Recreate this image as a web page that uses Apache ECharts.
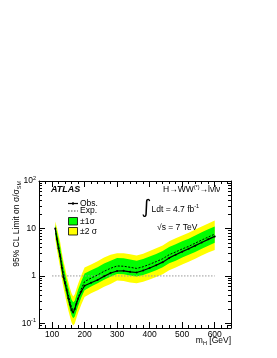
<!DOCTYPE html>
<html><head><meta charset="utf-8">
<script src="https://cdn.jsdelivr.net/npm/echarts@6/dist/echarts.min.js"></script>
<style>html,body{margin:0;padding:0;background:#fff}#c{width:277px;height:358px}</style>
</head><body><div id="c"></div>
<script>
// Higgs mass points [GeV]
const massPoints = [110,115,120,125,130,135,140,145,150,155,160,165,170,175,180,190,200,220,240,260,280,300,320,340,360,380,400,420,440,460,480,500,520,540,560,580,600];
// Observed 95% CL limit on sigma/sigma_SM
const observed = [10,6.0,3.8,2.6,1.5,0.95,0.7,0.5,0.34,0.25,0.19,0.17,0.2,0.26,0.33,0.47,0.62,0.72,0.82,0.98,1.15,1.27,1.28,1.22,1.18,1.3,1.47,1.68,1.95,2.4,2.8,3.25,3.75,4.35,5.05,5.9,6.8];
// Expected limit (median)
const expected = [9.5,6.3,4.2,2.9,1.75,1.15,0.8,0.55,0.4,0.29,0.22,0.19,0.21,0.27,0.35,0.53,0.76,0.9,1.05,1.25,1.45,1.62,1.6,1.52,1.44,1.56,1.76,2.0,2.3,2.8,3.2,3.7,4.2,4.9,5.7,6.6,7.6];
// +2 sigma, +1 sigma, -1 sigma, -2 sigma
const plus2 = [14,10.5,7.4,5.2,3.2,2.1,1.5,1.03,0.76,0.56,0.43,0.37,0.41,0.53,0.68,1.03,1.5,1.75,2.05,2.45,2.8,3.0,3.0,2.85,2.7,2.95,3.35,3.85,4.4,5.4,6.2,7.1,8.1,9.5,11,12.8,14.7];
const plus1 = [12,8.5,5.9,4.1,2.5,1.65,1.15,0.79,0.58,0.42,0.32,0.28,0.3,0.39,0.51,0.77,1.12,1.32,1.53,1.83,2.1,2.38,2.35,2.22,2.1,2.28,2.56,2.9,3.35,4.05,4.65,5.4,6.1,7.1,8.3,9.6,11];
const minus1 = [7.4,4.6,3.0,2.0,1.2,0.78,0.54,0.37,0.27,0.195,0.148,0.128,0.14,0.18,0.23,0.35,0.5,0.6,0.7,0.83,0.96,1.1,1.08,1.02,0.97,1.04,1.17,1.32,1.52,1.85,2.1,2.45,2.78,3.2,3.75,4.35,5.0];
const minus2 = [6,3.6,2.3,1.5,0.88,0.57,0.39,0.27,0.19,0.14,0.105,0.09,0.1,0.13,0.165,0.25,0.36,0.43,0.5,0.59,0.68,0.8,0.78,0.73,0.7,0.75,0.84,0.95,1.09,1.32,1.5,1.74,1.98,2.3,2.7,3.1,3.5];
// Tick labels
const xTickLabels = [100,200,300,400,500,600];
const yTickLabels = [0.1,1,10,100];
// Reference line sigma/sigma_SM = 1
const refLineX = [100,600];
const refLineY = 1;

const FONT = '"Liberation Sans", Arial, Helvetica, sans-serif';
const X_MIN = 60, X_MAX = 650, Y_MIN = 0.08, Y_MAX = 100;

const xMinor = [];
for (let v = X_MIN; v <= X_MAX; v += 20) if (v % 100 !== 0) xMinor.push(v);
const yMajorLog = yTickLabels.map(v => Math.log10(v));
const yMinorLog = [];
for (let d = -2; d <= 1; d++) for (let k = 2; k <= 9; k++) {
  const l = Math.log10(k * Math.pow(10, d));
  if (l >= Math.log10(Y_MIN) - 1e-9 && l <= 2) yMinorLog.push(l);
}

const chart = echarts.init(document.getElementById('c'), null, {renderer: 'canvas'});

function xAx(pos, ticks, len, showLine, showLabel) {
  return {
    type: 'value', position: pos, min: X_MIN, max: X_MAX,
    axisLine: {show: showLine, onZero: false, lineStyle: {color: '#000', width: 1}},
    axisTick: {show: true, inside: true, length: len, customValues: ticks, lineStyle: {color: '#000', width: 1}},
    axisLabel: {show: showLabel, customValues: xTickLabels, margin: 2, color: '#000', fontSize: 8.5, fontFamily: FONT},
    splitLine: {show: false}
  };
}
function yAxTicks(pos, ticks, len, showLine) {
  return {
    type: 'value', position: pos, min: Math.log10(Y_MIN), max: 2,
    axisLine: {show: showLine, onZero: false, lineStyle: {color: '#000', width: 1}},
    axisTick: {show: true, inside: true, length: len, customValues: ticks, lineStyle: {color: '#000', width: 1}},
    axisLabel: {show: false},
    splitLine: {show: false}
  };
}

function band(lo, hi, color, name) {
  return {
    type: 'custom', name: name, silent: true,
    data: massPoints.map((m, i) => [m, lo[i], hi[i]]),
    encode: {x: 0, y: [1, 2]},
    renderItem: function (params, api) {
      if (params.dataIndex !== 0) return null;
      const pts = [];
      for (let i = 0; i < massPoints.length; i++) pts.push(api.coord([massPoints[i], hi[i]]));
      for (let i = massPoints.length - 1; i >= 0; i--) pts.push(api.coord([massPoints[i], lo[i]]));
      return {type: 'polygon', shape: {points: pts}, style: {fill: color}};
    }
  };
}

const supRich = {
  n: {fontSize: 8.5, fontFamily: FONT, color: '#000', lineHeight: 11},
  sup: {fontSize: 5.5, fontFamily: FONT, color: '#000', verticalAlign: 'top', lineHeight: 11},
  sub: {fontSize: 5.5, fontFamily: FONT, color: '#000', verticalAlign: 'bottom', lineHeight: 11}
};

const option = {
  animation: false,
  backgroundColor: '#fff',
  grid: {left: 39, top: 181, right: 46, bottom: 30, containLabel: false},
  xAxis: [
    xAx('bottom', xTickLabels, 6, true, true),
    xAx('bottom', xMinor, 3, false, false),
    xAx('top', xTickLabels, 6, true, false),
    xAx('top', xMinor, 3, false, false)
  ],
  yAxis: [
    {
      type: 'log', logBase: 10, min: Y_MIN, max: Y_MAX, position: 'left',
      axisLine: {show: true, onZero: false, lineStyle: {color: '#000', width: 1}},
      axisTick: {show: false},
      axisLabel: {
        margin: 3, color: '#000', fontSize: 8.5, fontFamily: FONT,
        formatter: function (v) {
          const l = Math.log10(v), e = Math.round(l);
          if (Math.abs(l - e) > 1e-6) return '';
          if (e === 0) return '{n|1}';
          if (e === 1) return '{n|10}';
          return '{n|10}{sup|' + e + '}';
        },
        rich: supRich
      },
      splitLine: {show: false}, minorTick: {show: false}
    },
    yAxTicks('left', yMajorLog, 6, false),
    yAxTicks('left', yMinorLog, 3, false),
    yAxTicks('right', yMajorLog, 6, true),
    yAxTicks('right', yMinorLog, 3, false)
  ],
  series: [
    band(minus2, plus2, '#ffff00', '±2σ'),
    band(minus1, plus1, '#00ff00', '±1σ'),
    {
      type: 'line', name: 'ref', silent: true, showSymbol: false,
      data: refLineX.map(x => [x, refLineY]),
      lineStyle: {color: '#999', width: 1, type: [1.5, 1.5]}, z: 3
    },
    {
      type: 'line', name: 'Exp.', silent: true, showSymbol: false,
      data: massPoints.map((m, i) => [m, expected[i]]),
      lineStyle: {color: '#000', width: 1, type: [2, 1.5]}, z: 4
    },
    {
      type: 'line', name: 'Obs.', silent: true, showSymbol: true, symbol: 'circle', symbolSize: 2,
      itemStyle: {color: '#000'},
      data: massPoints.map((m, i) => [m, observed[i]]),
      lineStyle: {color: '#000', width: 1.2}, z: 5
    }
  ],
  graphic: [
    {type: 'text', left: 51, top: 185, style: {text: 'ATLAS', font: 'italic bold 9px ' + FONT, fill: '#000'}},
    // legend
    {type: 'line', shape: {x1: 68, y1: 203.5, x2: 78, y2: 203.5}, style: {stroke: '#000', lineWidth: 1.2}},
    {type: 'circle', shape: {cx: 73, cy: 203.5, r: 1.2}, style: {fill: '#000'}},
    {type: 'text', x: 80, y: 203.5, style: {text: 'Obs.', font: '8.5px ' + FONT, fill: '#000', verticalAlign: 'middle'}},
    {type: 'line', shape: {x1: 68, y1: 211, x2: 78, y2: 211}, style: {stroke: '#555', lineWidth: 1, lineDash: [1.5, 1.5]}},
    {type: 'text', x: 80, y: 211, style: {text: 'Exp.', font: '8.5px ' + FONT, fill: '#000', verticalAlign: 'middle'}},
    {type: 'rect', shape: {x: 68.5, y: 217.5, width: 9, height: 7.5}, style: {fill: '#00ff00', stroke: '#000', lineWidth: 0.8}},
    {type: 'text', x: 80, y: 221.3, style: {text: '±1σ', font: '8.5px ' + FONT, fill: '#000', verticalAlign: 'middle'}},
    {type: 'rect', shape: {x: 68.5, y: 227.5, width: 9, height: 7.5}, style: {fill: '#ffff00', stroke: '#000', lineWidth: 0.8}},
    {type: 'text', x: 80, y: 231.3, style: {text: '±2 σ', font: '8.5px ' + FONT, fill: '#000', verticalAlign: 'middle'}},
    // right annotations
    {type: 'text', x: 163, y: 189.5, style: {text: '{n|H→WW}{sup|(*)}{n|→lνlν}', rich: supRich, verticalAlign: 'middle'}},
    {type: 'text', x: 141.5, y: 208, style: {text: '∫', font: '19px "DejaVu Sans", ' + FONT, fill: '#000', verticalAlign: 'middle'}},
    {type: 'text', x: 151.5, y: 209.3, style: {text: '{n|Ldt = 4.7 fb}{sup|-1}', rich: supRich, verticalAlign: 'middle'}},
    {type: 'text', x: 157, y: 227.3, style: {text: '{n|√s = 7 TeV}', rich: supRich, verticalAlign: 'middle'}},
    // axis titles
    {type: 'text', x: 231, y: 341, style: {text: '{n|m}{sub|H}{n| [GeV]}', rich: supRich, align: 'right', verticalAlign: 'middle'}},
    {type: 'text', x: 16.5, y: 181, rotation: Math.PI / 2,
      style: {text: '{n|95% CL Limit on σ/σ}{sub|SM}', rich: supRich, align: 'right', verticalAlign: 'middle'}}
  ]
};
chart.setOption(option);
</script>
</body></html>
